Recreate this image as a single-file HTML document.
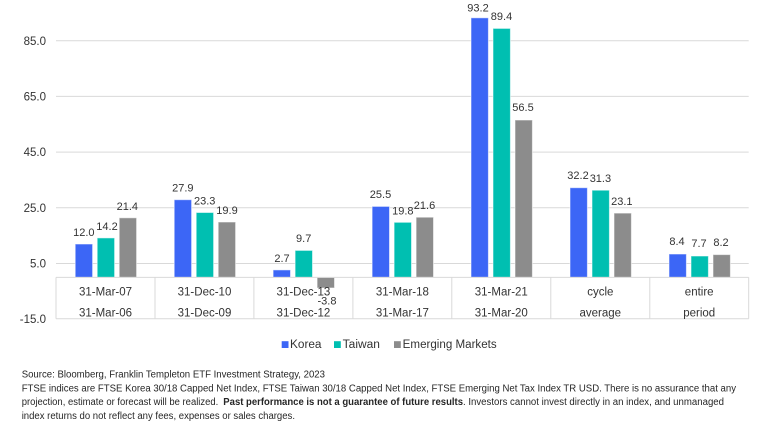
<!DOCTYPE html>
<html><head><meta charset="utf-8"><style>
html,body{margin:0;padding:0;background:#fff;}
svg{display:block;}
text{font-family:"Liberation Sans",Arial,sans-serif;}
</style></head><body>
<svg width="768" height="434" viewBox="0 0 768 434" xmlns="http://www.w3.org/2000/svg">
<!-- gridlines -->
<g stroke="#d9d9d9" stroke-width="1">
<line x1="56" y1="40.7" x2="748.7" y2="40.7"/>
<line x1="56" y1="96.4" x2="748.7" y2="96.4"/>
<line x1="56" y1="152.1" x2="748.7" y2="152.1"/>
<line x1="56" y1="207.8" x2="748.7" y2="207.8"/>
<line x1="56" y1="263.5" x2="748.7" y2="263.5"/>
</g>
<!-- y ticks -->
<g font-size="11.5" fill="#333" text-anchor="end">
<text x="46" y="44.8">85.0</text>
<text x="46" y="100.5">65.0</text>
<text x="46" y="156.2">45.0</text>
<text x="46" y="211.9">25.0</text>
<text x="46" y="267.6">5.0</text>
<text x="46" y="323">-15.0</text>
</g>
<!-- bars -->
<g stroke="#ffffff" stroke-opacity="0.55" stroke-width="1">
<!-- cat1 s=56 -->
<rect x="75.2" y="244" width="17.4" height="33.4" fill="#3C66F6"/>
<rect x="97.2" y="237.9" width="17.4" height="39.5" fill="#00BFB1"/>
<rect x="119.2" y="217.8" width="17.4" height="59.6" fill="#8C8C8C"/>
<!-- cat2 s=154.96 -->
<rect x="174.2" y="199.7" width="17.4" height="77.7" fill="#3C66F6"/>
<rect x="196.2" y="212.5" width="17.4" height="64.9" fill="#00BFB1"/>
<rect x="218.2" y="222" width="17.4" height="55.4" fill="#8C8C8C"/>
<!-- cat3 s=253.92 -->
<rect x="273.1" y="269.9" width="17.4" height="7.5" fill="#3C66F6"/>
<rect x="295.1" y="250.4" width="17.4" height="27" fill="#00BFB1"/>
<rect x="317.1" y="277.4" width="17.4" height="10.6" fill="#8C8C8C"/>
<!-- cat4 s=352.88 -->
<rect x="372.1" y="206.4" width="17.4" height="71" fill="#3C66F6"/>
<rect x="394.1" y="222.3" width="17.4" height="55.1" fill="#00BFB1"/>
<rect x="416.1" y="217.2" width="17.4" height="60.2" fill="#8C8C8C"/>
<!-- cat5 s=451.84 -->
<rect x="471" y="17.8" width="17.4" height="259.6" fill="#3C66F6"/>
<rect x="493" y="28.4" width="17.4" height="249" fill="#00BFB1"/>
<rect x="515" y="120.0" width="17.4" height="157.4" fill="#8C8C8C"/>
<!-- cat6 s=550.8 -->
<rect x="570" y="187.7" width="17.4" height="89.7" fill="#3C66F6"/>
<rect x="592" y="190.2" width="17.4" height="87.2" fill="#00BFB1"/>
<rect x="614" y="213.1" width="17.4" height="64.3" fill="#8C8C8C"/>
<!-- cat7 s=649.76 -->
<rect x="669" y="254" width="17.4" height="23.4" fill="#3C66F6"/>
<rect x="691" y="256" width="17.4" height="21.4" fill="#00BFB1"/>
<rect x="713" y="254.6" width="17.4" height="22.8" fill="#8C8C8C"/>
</g>
<!-- table -->
<g stroke="#d9d9d9" stroke-width="1">
<line x1="56" y1="277.4" x2="748.7" y2="277.4"/>
<line x1="56" y1="318.7" x2="748.7" y2="318.7"/>
<line x1="56" y1="277.4" x2="56" y2="318.7"/>
<line x1="155" y1="277.4" x2="155" y2="318.7"/>
<line x1="253.9" y1="277.4" x2="253.9" y2="318.7"/>
<line x1="352.9" y1="277.4" x2="352.9" y2="318.7"/>
<line x1="451.8" y1="277.4" x2="451.8" y2="318.7"/>
<line x1="550.8" y1="277.4" x2="550.8" y2="318.7"/>
<line x1="649.8" y1="277.4" x2="649.8" y2="318.7"/>
<line x1="748.7" y1="277.4" x2="748.7" y2="318.7"/>
</g>
<!-- category labels -->
<g font-size="11.5" fill="#333" text-anchor="middle">
<text x="105.5" y="295.3">31-Mar-07</text>
<text x="105.5" y="316.7">31-Mar-06</text>
<text x="204.5" y="295.3">31-Dec-10</text>
<text x="204.5" y="316.7">31-Dec-09</text>
<text x="303.4" y="295.3">31-Dec-13</text>
<text x="303.4" y="316.7">31-Dec-12</text>
<text x="402.4" y="295.3">31-Mar-18</text>
<text x="402.4" y="316.7">31-Mar-17</text>
<text x="501.3" y="295.3">31-Mar-21</text>
<text x="501.3" y="316.7">31-Mar-20</text>
<text x="600.3" y="295.3">cycle</text>
<text x="600.3" y="316.7">average</text>
<text x="699.2" y="295.3">entire</text>
<text x="699.2" y="316.7">period</text>
</g>
<!-- data labels -->
<g font-size="11" fill="#333" text-anchor="middle">
<text x="83.8" y="236">12.0</text>
<text x="107" y="230.2">14.2</text>
<text x="127.3" y="209.9">21.4</text>
<text x="182.8" y="191.6">27.9</text>
<text x="204.7" y="204.6">23.3</text>
<text x="227" y="213.9">19.9</text>
<text x="282" y="261.9">2.7</text>
<text x="303.7" y="241.9">9.7</text>
<text x="327" y="304.4">-3.8</text>
<text x="380.5" y="198.2">25.5</text>
<text x="402.8" y="214.6">19.8</text>
<text x="424.5" y="208.9">21.6</text>
<text x="478" y="11.4">93.2</text>
<text x="501.5" y="20.2">89.4</text>
<text x="523" y="111.2">56.5</text>
<text x="578" y="178.9">32.2</text>
<text x="600.4" y="182.2">31.3</text>
<text x="621.8" y="204.9">23.1</text>
<text x="677" y="245.2">8.4</text>
<text x="699" y="246.9">7.7</text>
<text x="721" y="245.9">8.2</text>
</g>
<!-- legend -->
<rect x="281.7" y="341.2" width="6.8" height="6.8" fill="#3C66F6"/>
<rect x="334" y="341.2" width="6.8" height="6.8" fill="#00BFB1"/>
<rect x="394" y="341.2" width="6.8" height="6.8" fill="#8C8C8C"/>
<g font-size="11.5" fill="#333">
<text x="290" y="348.2" textLength="31.5" lengthAdjust="spacingAndGlyphs">Korea</text>
<text x="342.7" y="348.2" textLength="37.3" lengthAdjust="spacingAndGlyphs">Taiwan</text>
<text x="402.7" y="348.2" textLength="94" lengthAdjust="spacingAndGlyphs">Emerging Markets</text>
</g>
<!-- footnote -->
<g font-size="10" fill="#262626">
<text x="21.7" y="377.6" textLength="303.3" lengthAdjust="spacingAndGlyphs">Source: Bloomberg, Franklin Templeton ETF Investment Strategy, 2023</text>
<text x="21.7" y="391.3" textLength="714.3" lengthAdjust="spacingAndGlyphs">FTSE indices are FTSE Korea 30/18 Capped Net Index, FTSE Taiwan 30/18 Capped Net Index, FTSE Emerging Net Tax Index TR USD. There is no assurance that any</text>
<text x="21.7" y="405" textLength="196.6" lengthAdjust="spacingAndGlyphs">projection, estimate or forecast will be realized.</text>
<text x="223.3" y="405" font-weight="bold" textLength="239.7" lengthAdjust="spacingAndGlyphs">Past performance is not a guarantee of future results</text>
<text x="463" y="405" textLength="261" lengthAdjust="spacingAndGlyphs">. Investors cannot invest directly in an index, and unmanaged</text>
<text x="21.7" y="418.8" textLength="273.3" lengthAdjust="spacingAndGlyphs">index returns do not reflect any fees, expenses or sales charges.</text>
</g>
</svg>
</body></html>
